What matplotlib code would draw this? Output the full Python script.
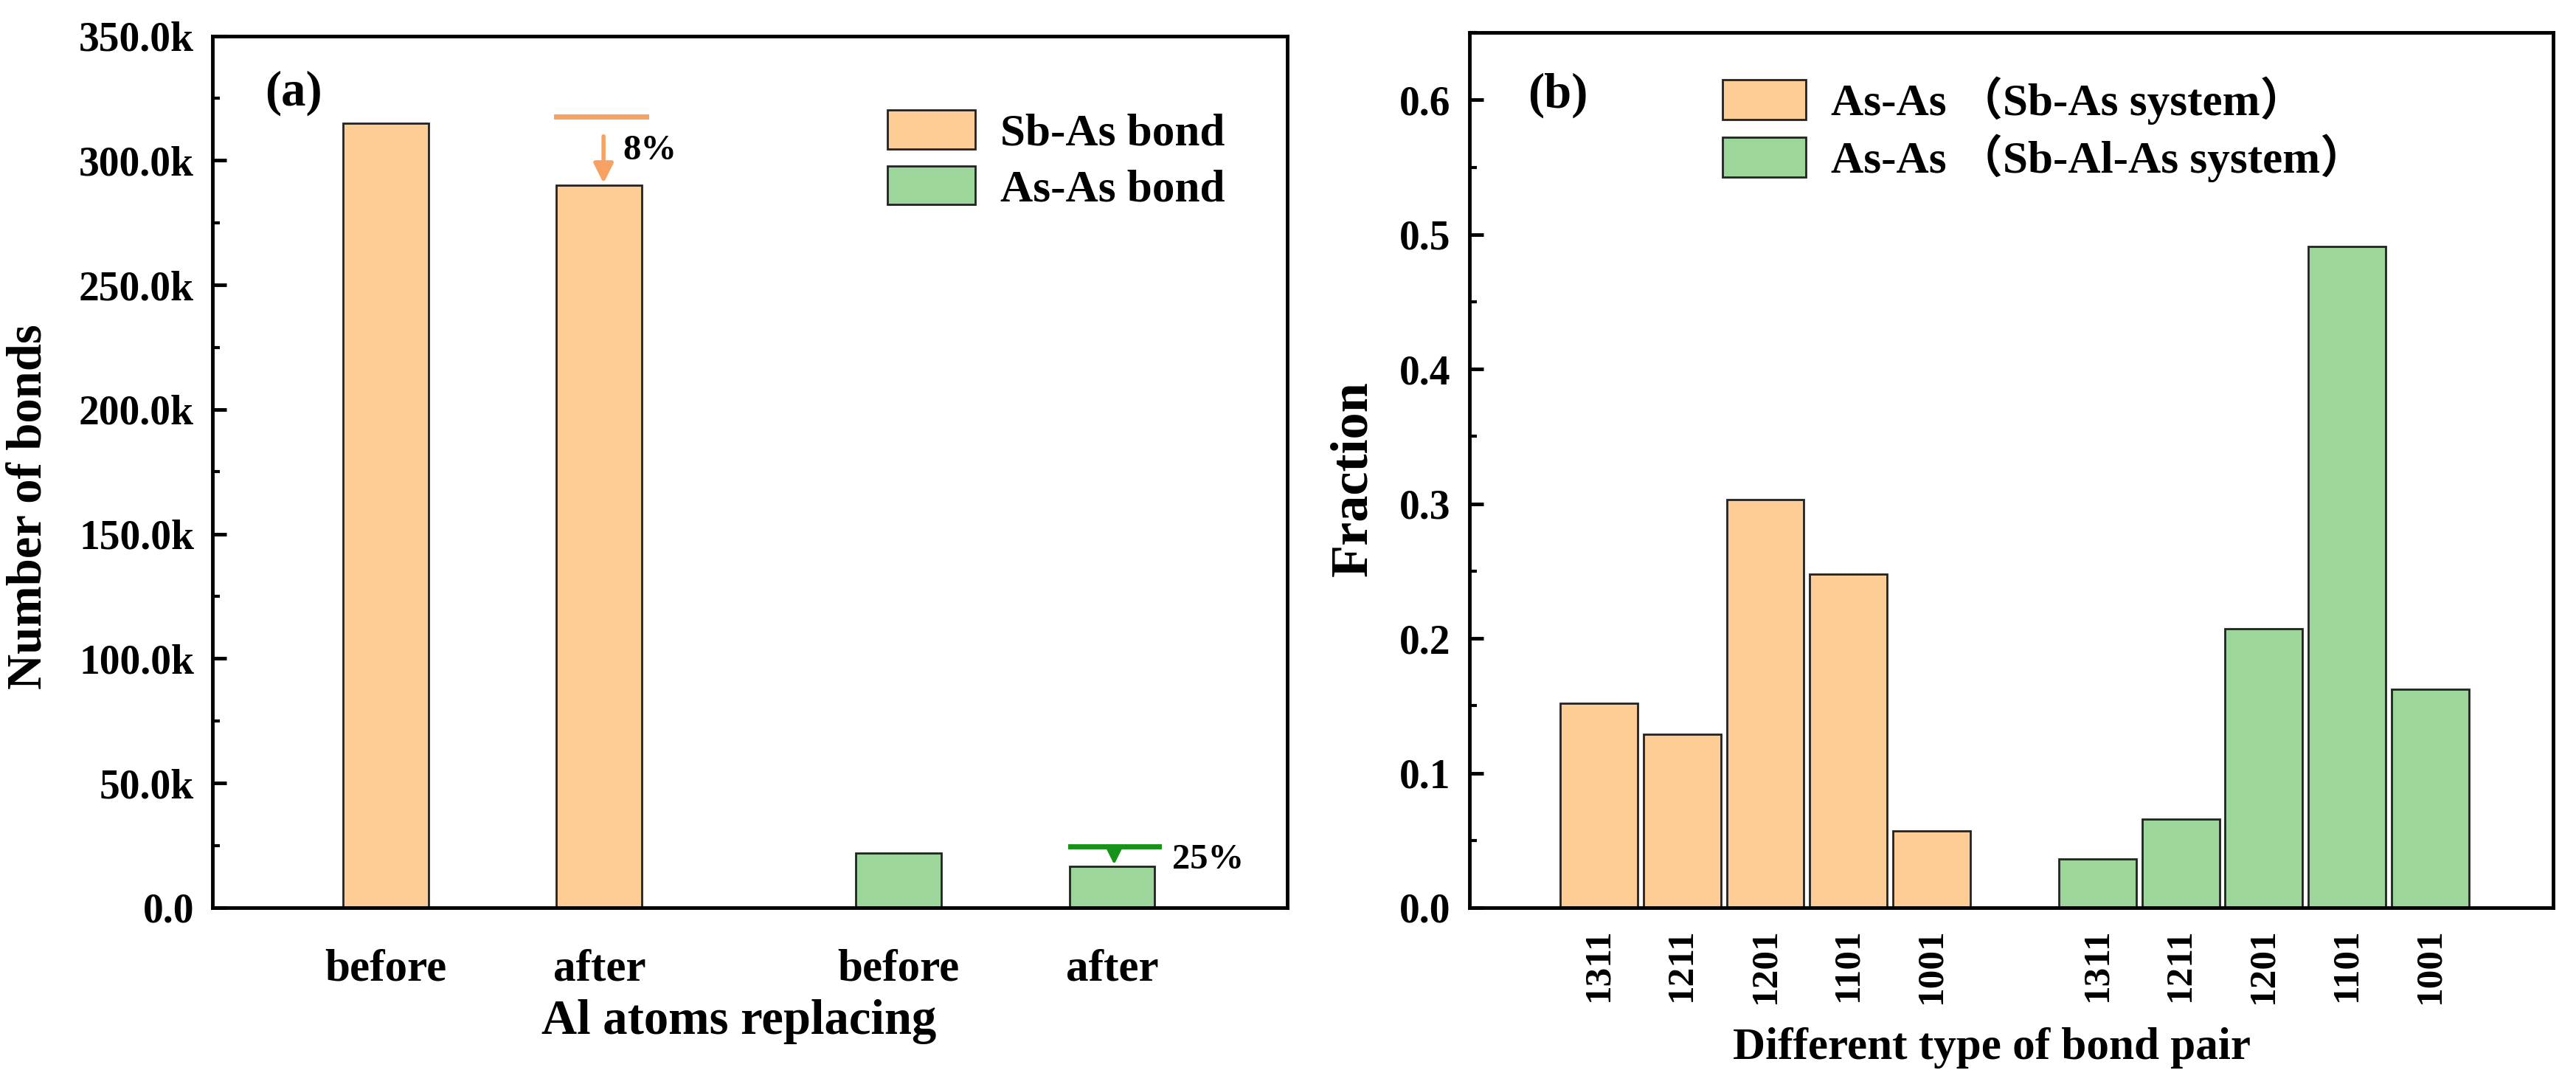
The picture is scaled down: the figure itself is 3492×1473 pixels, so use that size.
import matplotlib
matplotlib.use("Agg")
import matplotlib.pyplot as plt
from matplotlib.patches import Patch
from matplotlib.ticker import MultipleLocator, FuncFormatter
from matplotlib.font_manager import FontProperties

plt.rcParams['font.family'] = ['Liberation Serif', 'Noto Sans CJK SC', 'DejaVu Sans']
plt.rcParams['font.weight'] = 'bold'

# ---- data, panel (a)
stages = ["before", "after"]
sbas_bonds = [315000, 290000]      # Sb-As bond
asas_bonds = [22000, 16500]        # As-As bond
sbas_pos = [1.0, 2.0]
asas_pos = [3.4, 4.4]

# ---- data, panel (b)
pair_types = ["1311", "1211", "1201", "1101", "1001"]
frac_sbas = [0.152, 0.129, 0.303, 0.248, 0.057]    # As-As (Sb-As system)
frac_sbalas = [0.036, 0.066, 0.207, 0.491, 0.162]  # As-As (Sb-Al-As system)

orange = '#FDCD95'
green = '#9DD69B'
edge = '#222222'

fig = plt.figure(figsize=(34.92, 14.73), dpi=100)
ax1 = fig.add_axes([0.0825, 0.165, 0.4172, 0.802])
ax2 = fig.add_axes([0.5704, 0.165, 0.4207, 0.805])


def style_axes(ax):
    for s in ax.spines.values():
        s.set_linewidth(3.5)
    ax.tick_params(axis='y', which='major', direction='in', length=14, width=3.5,
                   labelsize=40, pad=18)
    ax.tick_params(axis='y', which='minor', direction='in', length=7, width=3)
    ax.tick_params(axis='x', which='both', length=0)


# ---------------- panel (a)
ax1.bar(sbas_pos, sbas_bonds, width=0.4, color=orange, edgecolor=edge, linewidth=2)
ax1.bar(asas_pos, asas_bonds, width=0.4, color=green, edgecolor=edge, linewidth=2)
ax1.set_xlim(0.19, 5.22)
ax1.set_ylim(0, 350000)
ax1.yaxis.set_major_locator(MultipleLocator(50000))
ax1.yaxis.set_minor_locator(MultipleLocator(25000))
ax1.yaxis.set_major_formatter(FuncFormatter(lambda v, p: "0.0" if v == 0 else "%.1fk" % (v / 1000)))
style_axes(ax1)
ax1.set_xticks(sbas_pos + asas_pos)
ax1.set_xticklabels(stages + stages)
ax1.tick_params(axis='x', labelsize=44, pad=40)
ax1.set_ylabel("Number of bonds", fontsize=48, fontweight='bold')
ax1.yaxis.set_label_coords(-0.150, 0.46)
ax1.set_xlabel("Al atoms replacing", fontsize=48, fontweight='bold')
ax1.xaxis.set_label_coords(0.49, -0.105)
ax1.text(0.049, 0.934, "(a)", transform=ax1.transAxes, fontsize=48,
         fontweight='bold', va='center', ha='left')

# drop markers
off = 2500
x_after = sbas_pos[1]
ax1.plot([x_after - 0.2, x_after + 0.22], [sbas_bonds[0] + off] * 2, color='#F6A262', lw=5)
ax1.annotate("", xy=(x_after + 0.02, sbas_bonds[1]), xytext=(x_after + 0.02, sbas_bonds[0] - 4500),
             arrowprops=dict(arrowstyle='-|>', color='#F6A262', lw=4, mutation_scale=40))
ax1.text(x_after + 0.11, 304000, "8%", fontsize=35, fontweight='bold', va='center')
x_after2 = asas_pos[1]
ax1.plot([x_after2 - 0.195, x_after2 + 0.22], [asas_bonds[0] + off] * 2, color='#179317', lw=5)
ax1.annotate("", xy=(x_after2 + 0.01, asas_bonds[1]), xytext=(x_after2 + 0.01, asas_bonds[0] + off),
             arrowprops=dict(arrowstyle='-|>', color='#179317', lw=3, mutation_scale=30))
ax1.text(x_after2 + 0.28, 19300, "25%", fontsize=35, fontweight='bold', va='center')

h1 = [Patch(facecolor=orange, edgecolor=edge, linewidth=2, label="Sb-As bond"),
      Patch(facecolor=green, edgecolor=edge, linewidth=2, label="As-As bond")]
ax1.legend(handles=h1, loc='upper left', bbox_to_anchor=(0.628, 0.915), frameon=False,
           fontsize=44, handlelength=1.95, handleheight=0.95, handletextpad=0.55,
           labelspacing=0.25, borderpad=0, borderaxespad=0)

# ---------------- panel (b)
n = len(pair_types)
pos_a = [i + 1 for i in range(n)]
pos_b = [i + 2 + n for i in range(n)]
ax2.bar(pos_a, frac_sbas, width=0.93, color=orange, edgecolor=edge, linewidth=2)
ax2.bar(pos_b, frac_sbalas, width=0.93, color=green, edgecolor=edge, linewidth=2)
ax2.set_xlim(-0.56, 12.48)
ax2.set_ylim(0, 0.65)
ax2.yaxis.set_major_locator(MultipleLocator(0.1))
ax2.yaxis.set_minor_locator(MultipleLocator(0.05))
ax2.yaxis.set_major_formatter(FuncFormatter(lambda v, p: "%.1f" % v))
style_axes(ax2)
ax2.set_xticks(pos_a + pos_b)
ax2.set_xticklabels(pair_types + pair_types, rotation=90)
ax2.tick_params(axis='x', labelsize=37, pad=20)
ax2.set_ylabel("Fraction", fontsize=52, fontweight='bold')
ax2.yaxis.set_label_coords(-0.085, 0.49)
ax2.set_xlabel("Different type of bond pair", fontsize=44, fontweight='bold')
ax2.xaxis.set_label_coords(0.482, -0.137)
ax2.text(0.054, 0.928, "(b)", transform=ax2.transAxes, fontsize=48,
         fontweight='bold', va='center', ha='left')

h2 = [Patch(facecolor=orange, edgecolor=edge, linewidth=2, label="As-As （Sb-As system）"),
      Patch(facecolor=green, edgecolor=edge, linewidth=2, label="As-As （Sb-Al-As system）")]
ax2.legend(handles=h2, loc='upper left', bbox_to_anchor=(0.2335, 0.95), frameon=False,
           prop=FontProperties(family=['Liberation Serif', 'Noto Sans CJK SC'], weight='bold', size=44),
           handlelength=1.85, handleheight=1.0, handletextpad=0.55,
           labelspacing=0.2, borderpad=0, borderaxespad=0)

fig.savefig("out.png", dpi=100)
